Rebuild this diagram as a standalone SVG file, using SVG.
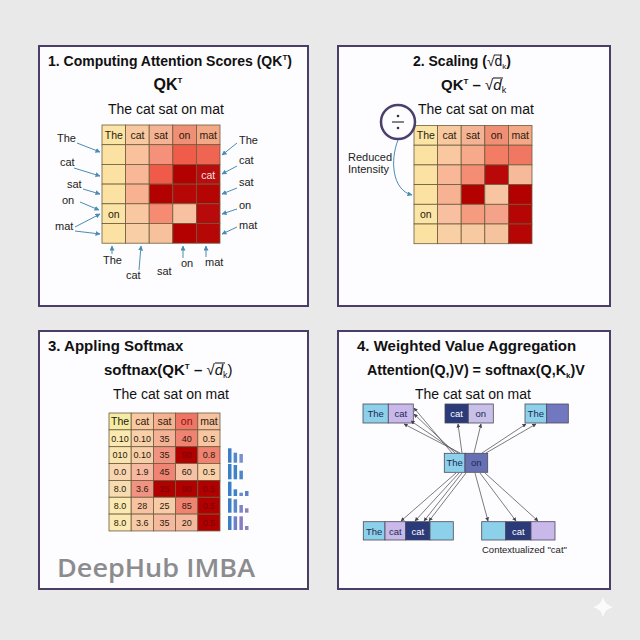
<svg xmlns="http://www.w3.org/2000/svg" width="640" height="640" viewBox="0 0 640 640">
<defs>
<style>
.bg{fill:#e9e9ea}
.panel{fill:#fdfcfe;stroke:#4a3d68;stroke-width:2}
.t{font-family:"Liberation Sans",Arial,sans-serif;fill:#111}
.b{font-weight:bold}
.lbl{font-family:"Liberation Sans",Arial,sans-serif;font-size:11px;fill:#222}
.ct{font-family:"Liberation Sans",Arial,sans-serif;font-size:10.5px;fill:#2a1a0a;text-anchor:middle}
.vt{font-family:"Liberation Sans",Arial,sans-serif;font-size:9px;fill:#2a1a0a;text-anchor:middle}
.grid rect{stroke:#6e5c3c;stroke-width:0.8}
.ba{stroke:#4a8cb4;stroke-width:1;fill:none;marker-end:url(#ab)}
.ga{stroke:#5a5a62;stroke-width:0.8;fill:none;marker-end:url(#ag)}
.bx{stroke:#4a4a5a;stroke-width:0.8}
.bt{font-family:"Liberation Sans",Arial,sans-serif;font-size:9.5px;text-anchor:middle;fill:#1c2a50}
</style>
<marker id="ab" viewBox="0 0 10 10" refX="9" refY="5" markerWidth="5" markerHeight="5" orient="auto"><path d="M0,0 L10,5 L0,10 z" fill="#4a8cb4"/></marker>
<marker id="ag" viewBox="0 0 10 10" refX="9" refY="5" markerWidth="5" markerHeight="5" orient="auto"><path d="M0,0 L10,5 L0,10 z" fill="#44444c"/></marker>
</defs>
<rect class="bg" x="0" y="0" width="640" height="640"/>

<!-- Panel 1 -->
<g id="panel1">
<rect class="panel" x="39" y="46" width="269" height="260"/>
<text class="t b" x="48" y="66" font-size="14">1. Computing Attention Scores (QK<tspan font-size="8" dy="-6">T</tspan><tspan dy="6">)</tspan></text>
<text class="t b" x="168" y="90" font-size="16" text-anchor="middle">QK<tspan font-size="8" dy="-7">T</tspan></text>
<text class="t" x="166" y="114" font-size="14" text-anchor="middle">The cat sat on mat</text>
<g class="grid">
<rect x="102" y="125" width="23.6" height="19.7" fill="#fbe5a6"/><rect x="125.6" y="125" width="23.6" height="19.7" fill="#f8c8a0"/><rect x="149.2" y="125" width="23.6" height="19.7" fill="#f5b396"/><rect x="172.8" y="125" width="23.6" height="19.7" fill="#ef8f75"/><rect x="196.4" y="125" width="23.6" height="19.7" fill="#f3a888"/>
<rect x="102" y="144.7" width="23.6" height="19.7" fill="#fbe2a2"/><rect x="125.6" y="144.7" width="23.6" height="19.7" fill="#f9c29c"/><rect x="149.2" y="144.7" width="23.6" height="19.7" fill="#f5907a"/><rect x="172.8" y="144.7" width="23.6" height="19.7" fill="#ef5c4a"/><rect x="196.4" y="144.7" width="23.6" height="19.7" fill="#f06452"/>
<rect x="102" y="164.4" width="23.6" height="19.7" fill="#fbe2a2"/><rect x="125.6" y="164.4" width="23.6" height="19.7" fill="#f8b898"/><rect x="149.2" y="164.4" width="23.6" height="19.7" fill="#f05a48"/><rect x="172.8" y="164.4" width="23.6" height="19.7" fill="#b30000"/><rect x="196.4" y="164.4" width="23.6" height="19.7" fill="#b90d0d"/>
<rect x="102" y="184.1" width="23.6" height="19.7" fill="#fbe2a2"/><rect x="125.6" y="184.1" width="23.6" height="19.7" fill="#f8b292"/><rect x="149.2" y="184.1" width="23.6" height="19.7" fill="#b30000"/><rect x="172.8" y="184.1" width="23.6" height="19.7" fill="#b60606"/><rect x="196.4" y="184.1" width="23.6" height="19.7" fill="#b50404"/>
<rect x="102" y="203.8" width="23.6" height="19.7" fill="#fbe5a6"/><rect x="125.6" y="203.8" width="23.6" height="19.7" fill="#f9c8a2"/><rect x="149.2" y="203.8" width="23.6" height="19.7" fill="#f48b72"/><rect x="172.8" y="203.8" width="23.6" height="19.7" fill="#f8c2a2"/><rect x="196.4" y="203.8" width="23.6" height="19.7" fill="#b80a0a"/>
<rect x="102" y="223.5" width="23.6" height="19.7" fill="#fbe2a2"/><rect x="125.6" y="223.5" width="23.6" height="19.7" fill="#f8cea6"/><rect x="149.2" y="223.5" width="23.6" height="19.7" fill="#f7c19c"/><rect x="172.8" y="223.5" width="23.6" height="19.7" fill="#b30000"/><rect x="196.4" y="223.5" width="23.6" height="19.7" fill="#b60707"/>
</g>
<text class="ct" x="113.8" y="138.5">The</text><text class="ct" x="137.4" y="138.5">cat</text><text class="ct" x="161" y="138.5">sat</text><text class="ct" x="184.6" y="138.5">on</text><text class="ct" x="208.2" y="138.5">mat</text>
<text class="ct" x="208.2" y="178.5" style="fill:#f6e0e0" font-size="11">cat</text>
<text class="ct" x="113.8" y="217.5" font-size="11">on</text>
<text class="lbl" x="57" y="142">The</text><text class="lbl" x="60" y="166">cat</text><text class="lbl" x="67" y="188">sat</text><text class="lbl" x="62" y="204">on</text><text class="lbl" x="55" y="230">mat</text>
<text class="lbl" x="239" y="144">The</text><text class="lbl" x="239" y="164">cat</text><text class="lbl" x="239" y="186">sat</text><text class="lbl" x="239" y="209">on</text><text class="lbl" x="239" y="229">mat</text>
<text class="lbl" x="103" y="264">The</text><text class="lbl" x="126" y="279">cat</text><text class="lbl" x="157" y="275">sat</text><text class="lbl" x="181" y="267">on</text><text class="lbl" x="205" y="266">mat</text>
</g>

<!-- Panel 2 -->
<g id="panel2">
<rect class="panel" x="338" y="46" width="272" height="260"/>
<text class="t b" x="462" y="66" font-size="14" text-anchor="middle">2. Scaling (<tspan font-weight="normal">√d</tspan><tspan font-weight="normal" font-size="8" dy="3">k</tspan><tspan dy="-3">)</tspan></text>
<line x1="494" y1="55" x2="502" y2="55" stroke="#111" stroke-width="0.9"/>
<text class="t b" x="441" y="90" font-size="15">QK<tspan font-size="8" dy="-6">T</tspan><tspan dy="6"> – </tspan><tspan font-weight="normal">√</tspan><tspan font-style="italic" font-weight="normal">d</tspan><tspan font-weight="normal" font-size="9" dy="3">k</tspan></text>
<line x1="493" y1="78" x2="503" y2="78" stroke="#111" stroke-width="1"/>
<text class="t" x="476" y="114" font-size="14" text-anchor="middle">The cat sat on mat</text>
<g class="grid">
<rect x="414" y="125.5" width="23.6" height="19.7" fill="#fbe5a6"/><rect x="437.6" y="125.5" width="23.6" height="19.7" fill="#f8c8a0"/><rect x="461.2" y="125.5" width="23.6" height="19.7" fill="#f5b396"/><rect x="484.8" y="125.5" width="23.6" height="19.7" fill="#ef8f75"/><rect x="508.4" y="125.5" width="23.6" height="19.7" fill="#f3a888"/>
<rect x="414" y="145.2" width="23.6" height="19.7" fill="#fbe2a2"/><rect x="437.6" y="145.2" width="23.6" height="19.7" fill="#f9c8a0"/><rect x="461.2" y="145.2" width="23.6" height="19.7" fill="#f7a98b"/><rect x="484.8" y="145.2" width="23.6" height="19.7" fill="#f27c64"/><rect x="508.4" y="145.2" width="23.6" height="19.7" fill="#f07762"/>
<rect x="414" y="164.9" width="23.6" height="19.7" fill="#fbe2a2"/><rect x="437.6" y="164.9" width="23.6" height="19.7" fill="#f8b898"/><rect x="461.2" y="164.9" width="23.6" height="19.7" fill="#f48d74"/><rect x="484.8" y="164.9" width="23.6" height="19.7" fill="#b80808"/><rect x="508.4" y="164.9" width="23.6" height="19.7" fill="#f6b99a"/>
<rect x="414" y="184.6" width="23.6" height="19.7" fill="#fbe2a2"/><rect x="437.6" y="184.6" width="23.6" height="19.7" fill="#f7b193"/><rect x="461.2" y="184.6" width="23.6" height="19.7" fill="#b30000"/><rect x="484.8" y="184.6" width="23.6" height="19.7" fill="#f8c5a2"/><rect x="508.4" y="184.6" width="23.6" height="19.7" fill="#b30000"/>
<rect x="414" y="204.3" width="23.6" height="19.7" fill="#fbe5a6"/><rect x="437.6" y="204.3" width="23.6" height="19.7" fill="#f8c0a0"/><rect x="461.2" y="204.3" width="23.6" height="19.7" fill="#f59b80"/><rect x="484.8" y="204.3" width="23.6" height="19.7" fill="#f4a28a"/><rect x="508.4" y="204.3" width="23.6" height="19.7" fill="#b50505"/>
<rect x="414" y="224" width="23.6" height="19.7" fill="#fbe2a2"/><rect x="437.6" y="224" width="23.6" height="19.7" fill="#f9cfa6"/><rect x="461.2" y="224" width="23.6" height="19.7" fill="#f8caa2"/><rect x="484.8" y="224" width="23.6" height="19.7" fill="#f6c39f"/><rect x="508.4" y="224" width="23.6" height="19.7" fill="#b50505"/>
</g>
<text class="ct" x="425.8" y="139">The</text><text class="ct" x="449.4" y="139">cat</text><text class="ct" x="473" y="139">sat</text><text class="ct" x="496.6" y="139">on</text><text class="ct" x="520.2" y="139">mat</text>
<text class="ct" x="425.8" y="218" font-size="11">on</text>
<g id="divide">
<circle cx="398" cy="122" r="17" fill="#fdfcfe" stroke="#4a3f6e" stroke-width="2.5"/>
<circle cx="398" cy="116" r="1.3" fill="#333"/>
<line x1="392" y1="122" x2="404" y2="122" stroke="#333" stroke-width="1.2"/>
<circle cx="398" cy="128" r="1.3" fill="#333"/>
</g>
<text class="lbl" x="348" y="161" font-size="10.5">Reduced</text>
<text class="lbl" x="348" y="173" font-size="10.5">Intensity</text>
</g>

<!-- Panel 3 -->
<g id="panel3">
<rect class="panel" x="39" y="331" width="269" height="258"/>
<text class="t b" x="48" y="351" font-size="15">3. Appling Softmax</text>
<text class="t b" x="104" y="375" font-size="15">softnax(QK<tspan font-size="8" dy="-6">T</tspan><tspan dy="6"> – </tspan><tspan font-weight="normal">√</tspan><tspan font-style="italic" font-weight="normal">d</tspan><tspan font-weight="normal" font-size="9" dy="3">k</tspan><tspan dy="-3" font-weight="normal">)</tspan></text>
<line x1="215" y1="363" x2="225" y2="363" stroke="#111" stroke-width="1"/>
<text class="t" x="171" y="399" font-size="14" text-anchor="middle">The cat sat on mat</text>
<g class="grid">
<rect x="109" y="413" width="22.2" height="16.85" fill="#f4eba4"/><rect x="131.2" y="413" width="22.2" height="16.85" fill="#f8c9a2"/><rect x="153.4" y="413" width="22.2" height="16.85" fill="#f5b293"/><rect x="175.6" y="413" width="22.2" height="16.85" fill="#ef7666"/><rect x="197.8" y="413" width="22.2" height="16.85" fill="#f6c2a2"/>
<rect x="109" y="429.85" width="22.2" height="16.85" fill="#fbe9b2"/><rect x="131.2" y="429.85" width="22.2" height="16.85" fill="#f8d0aa"/><rect x="153.4" y="429.85" width="22.2" height="16.85" fill="#f5b196"/><rect x="175.6" y="429.85" width="22.2" height="16.85" fill="#f08272"/><rect x="197.8" y="429.85" width="22.2" height="16.85" fill="#f7c6a2"/>
<rect x="109" y="446.7" width="22.2" height="16.85" fill="#f9e4b0"/><rect x="131.2" y="446.7" width="22.2" height="16.85" fill="#f8cea8"/><rect x="153.4" y="446.7" width="22.2" height="16.85" fill="#f19282"/><rect x="175.6" y="446.7" width="22.2" height="16.85" fill="#b00000"/><rect x="197.8" y="446.7" width="22.2" height="16.85" fill="#f08272"/>
<rect x="109" y="463.55" width="22.2" height="16.85" fill="#f8d6b2"/><rect x="131.2" y="463.55" width="22.2" height="16.85" fill="#f6b8a0"/><rect x="153.4" y="463.55" width="22.2" height="16.85" fill="#f08474"/><rect x="175.6" y="463.55" width="22.2" height="16.85" fill="#f6c2a6"/><rect x="197.8" y="463.55" width="22.2" height="16.85" fill="#f8d0aa"/>
<rect x="109" y="480.4" width="22.2" height="16.85" fill="#f6dcb0"/><rect x="131.2" y="480.4" width="22.2" height="16.85" fill="#f19282"/><rect x="153.4" y="480.4" width="22.2" height="16.85" fill="#b00000"/><rect x="175.6" y="480.4" width="22.2" height="16.85" fill="#b00000"/><rect x="197.8" y="480.4" width="22.2" height="16.85" fill="#b00000"/>
<rect x="109" y="497.25" width="22.2" height="16.85" fill="#fbe9b2"/><rect x="131.2" y="497.25" width="22.2" height="16.85" fill="#f6c2a2"/><rect x="153.4" y="497.25" width="22.2" height="16.85" fill="#f7caa8"/><rect x="175.6" y="497.25" width="22.2" height="16.85" fill="#f08272"/><rect x="197.8" y="497.25" width="22.2" height="16.85" fill="#b00000"/>
<rect x="109" y="514.1" width="22.2" height="16.85" fill="#fbe9b2"/><rect x="131.2" y="514.1" width="22.2" height="16.85" fill="#f7caa8"/><rect x="153.4" y="514.1" width="22.2" height="16.85" fill="#f5b9a0"/><rect x="175.6" y="514.1" width="22.2" height="16.85" fill="#f4b89c"/><rect x="197.8" y="514.1" width="22.2" height="16.85" fill="#b00000"/>
</g>
<g>
<text class="ct" x="120.1" y="425" font-size="10">The</text><text class="ct" x="142.3" y="425" font-size="10">cat</text><text class="ct" x="164.5" y="425" font-size="10">sat</text><text class="ct" x="186.7" y="425" font-size="10" style="fill:#8a1010">on</text><text class="ct" x="208.9" y="425" font-size="10">mat</text>
<text class="vt" x="120.1" y="441.5">0.10</text><text class="vt" x="142.3" y="441.5">0.10</text><text class="vt" x="164.5" y="441.5">35</text><text class="vt" x="186.7" y="441.5">40</text><text class="vt" x="208.9" y="441.5">0.5</text>
<text class="vt" x="120.1" y="458.3">010</text><text class="vt" x="142.3" y="458.3">0.10</text><text class="vt" x="164.5" y="458.3">35</text><text class="vt" x="186.7" y="458.3" style="fill:#780404">90</text><text class="vt" x="208.9" y="458.3">0.8</text>
<text class="vt" x="120.1" y="475.2">0.0</text><text class="vt" x="142.3" y="475.2">1.9</text><text class="vt" x="164.5" y="475.2">45</text><text class="vt" x="186.7" y="475.2">60</text><text class="vt" x="208.9" y="475.2">0.5</text>
<text class="vt" x="120.1" y="492">8.0</text><text class="vt" x="142.3" y="492">3.6</text><text class="vt" x="164.5" y="492" style="fill:#780404">25</text><text class="vt" x="186.7" y="492" style="fill:#780404">90</text><text class="vt" x="208.9" y="492" style="fill:#780404">0.5</text>
<text class="vt" x="120.1" y="508.9">8.0</text><text class="vt" x="142.3" y="508.9">28</text><text class="vt" x="164.5" y="508.9">25</text><text class="vt" x="186.7" y="508.9">85</text><text class="vt" x="208.9" y="508.9" style="fill:#780404">0.5</text>
<text class="vt" x="120.1" y="525.7">8.0</text><text class="vt" x="142.3" y="525.7">3.6</text><text class="vt" x="164.5" y="525.7">35</text><text class="vt" x="186.7" y="525.7">20</text><text class="vt" x="208.9" y="525.7" style="fill:#780404">0.5</text>
</g>
<g id="bars">
<rect x="228" y="448.3" width="3.5" height="14.4" fill="#3a7fc4"/><rect x="233.6" y="452.7" width="3.5" height="10" fill="#5288cc"/><rect x="239.4" y="454" width="3.5" height="8.7" fill="#7a8fd0"/>
<rect x="228" y="464" width="3.5" height="15.3" fill="#3a7fc4"/><rect x="233.6" y="465" width="3.5" height="14.3" fill="#3f82c6"/><rect x="239.4" y="470.7" width="3.5" height="8.6" fill="#4a86c8"/>
<rect x="228" y="481.7" width="3.5" height="14.3" fill="#3a7fc4"/><rect x="233.6" y="489.3" width="3.5" height="6.7" fill="#3f82c6"/><rect x="239.4" y="492.7" width="3.5" height="3.3" fill="#6a86cc"/><rect x="245" y="491" width="3.5" height="5" fill="#5a82c8"/>
<rect x="228" y="498.3" width="3.5" height="14.4" fill="#3a7fc4"/><rect x="233.6" y="499.3" width="3.5" height="13.4" fill="#5a86cc"/><rect x="239.4" y="505" width="3.5" height="7.7" fill="#7a84c8"/><rect x="245" y="508.3" width="3.5" height="4.4" fill="#8a80c0"/>
<rect x="228" y="516" width="3.5" height="14" fill="#3a7fc4"/><rect x="233.6" y="516.3" width="3.5" height="13.7" fill="#7080c8"/><rect x="239.4" y="516.3" width="3.5" height="13.7" fill="#8a7ec0"/><rect x="245" y="526" width="3.5" height="4" fill="#8a80c0"/>
</g>
<text x="57" y="577" font-family="'Open Sans','Liberation Sans',sans-serif" font-size="25" font-weight="600" fill="#8c8c8e" textLength="198" lengthAdjust="spacingAndGlyphs">DeepHub IMBA</text>
</g>

<!-- Panel 4 -->
<g id="panel4">
<rect class="panel" x="338" y="331" width="272" height="258"/>
<text class="t b" x="357" y="351" font-size="15">4. Weighted Value Aggregation</text>
<text class="t b" x="367" y="375" font-size="14.3">Attention(Q,)V) = softnax(Q,K<tspan font-size="8" dy="3">k</tspan><tspan dy="-3">)V</tspan></text>
<text class="t" x="473" y="399" font-size="14" text-anchor="middle">The cat sat on mat</text>
</g>
<g id="box-top-left">
<rect class="bx" x="363" y="404" width="25.3" height="19" fill="#8dd0ea"/><rect class="bx" x="388.3" y="404" width="25" height="19" fill="#c9b9ea"/>
<text class="bt" x="375.6" y="417">The</text><text class="bt" x="400.8" y="417">cat</text>
</g>
<g id="box-top-mid">
<rect class="bx" x="445" y="404" width="23.3" height="19" fill="#2b3a78"/><rect class="bx" x="468.3" y="404" width="25" height="19" fill="#c9c0ea"/>
<text class="bt" x="456.6" y="417" style="fill:#fff">cat</text><text class="bt" x="480.8" y="417">on</text>
</g>
<g id="box-top-right">
<rect class="bx" x="525" y="404" width="21.7" height="19" fill="#8dd0ea"/><rect class="bx" x="546.7" y="404" width="21.6" height="19" fill="#7278c0"/>
<text class="bt" x="535.8" y="417">The</text>
</g>
<g id="box-center">
<rect class="bx" x="444.3" y="453.3" width="20.7" height="19" fill="#8dd0ea"/><rect class="bx" x="465" y="453.3" width="22.7" height="19" fill="#6870b4"/>
<text class="bt" x="454.6" y="466.3">The</text><text class="bt" x="476.3" y="466.3">on</text>
</g>
<g id="box-bottom-left">
<rect class="bx" x="363.3" y="521.7" width="21.7" height="18.3" fill="#8dd0ea"/><rect class="bx" x="385" y="521.7" width="20.7" height="18.3" fill="#c9b9ea"/><rect class="bx" x="405.7" y="521.7" width="24.3" height="18.3" fill="#2b3a78"/><rect class="bx" x="430" y="521.7" width="23.3" height="18.3" fill="#8dd0ea"/>
<text class="bt" x="374.1" y="534.5">The</text><text class="bt" x="395.3" y="534.5">cat</text><text class="bt" x="417.8" y="534.5" style="fill:#fff">cat</text>
</g>
<g id="box-bottom-right">
<rect class="bx" x="481.7" y="521.7" width="24" height="18.3" fill="#8dd0ea"/><rect class="bx" x="505.7" y="521.7" width="25.3" height="18.3" fill="#2b3a78"/><rect class="bx" x="531" y="521.7" width="24" height="18.3" fill="#c9b9ea"/>
<text class="bt" x="518.3" y="534.5" style="fill:#fff">cat</text>
</g>
<text x="482" y="553" font-family="'Liberation Sans',Arial,sans-serif" font-size="9.5" fill="#222">Contextualized "cat"</text>

<!-- Connectors -->
<g id="connectors">
<path class="ba" d="M77,143 L100,152"/>
<path class="ba" d="M74,168 L100,176"/>
<path class="ba" d="M83,189 L100,194"/>
<path class="ba" d="M80,202 L99,210"/>
<path class="ba" d="M75,227 L100,214"/>
<path class="ba" d="M75,231 L100,234"/>
<path class="ba" d="M237,143 L222,155"/>
<path class="ba" d="M237,166 L222,174"/>
<path class="ba" d="M237,188 L222,194"/>
<path class="ba" d="M237,209 L222,214"/>
<path class="ba" d="M237,227 L222,234"/>
<path class="ba" d="M112,254 L112,246"/>
<path class="ba" d="M139,270 L141,246"/>
<path class="ba" d="M183,258 L183,246"/>
<path class="ba" d="M206,257 L206,246"/>
<path class="ba" d="M398,140 C390,160 392,190 412,195"/>
<path class="ga" d="M452,453 L414,408"/>
<path class="ga" d="M455,453 L414,414"/>
<path class="ga" d="M458,453 L411,421"/>
<path class="ga" d="M460,453 L404,424"/>
<path class="ga" d="M462,453 L458,424"/>
<path class="ga" d="M474,453 L481,424"/>
<path class="ga" d="M482,453 L526,424"/>
<path class="ga" d="M486,453 L536,424"/>
<path class="ga" d="M456,473 L401,521"/>
<path class="ga" d="M459,473 L415,521"/>
<path class="ga" d="M462,473 L424,521"/>
<path class="ga" d="M466,473 L429,521"/>
<path class="ga" d="M475,473 L488,521"/>
<path class="ga" d="M480,473 L516,521"/>
<path class="ga" d="M485,473 L538,521"/>
</g>
<path d="M603,597 Q605,605 613,607 Q605,609 603,617 Q601,609 593,607 Q601,605 603,597 Z" fill="#ffffff" opacity="0.8"/>
</svg>
